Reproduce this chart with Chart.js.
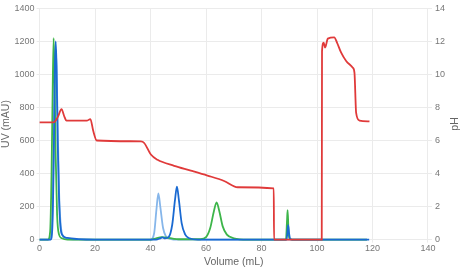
<!doctype html>
<html lang="en">
<head>
<meta charset="utf-8">
<title>UV / pH trace</title>
<script src="https://cdn.jsdelivr.net/npm/chart.js@4.4.1/dist/chart.umd.min.js"></script>
<style>
  html, body { margin: 0; padding: 0; background: #fff; }
  #wrap { position: relative; width: 460px; height: 269px; }
</style>
</head>
<body>
<div id="wrap"><canvas id="c"></canvas></div>
<script>
// volumes (mL) and readings
const greenX = [0, 3, 3.8, 4.3, 4.7, 5.05, 5.4, 5.8, 6.3, 7, 8, 10, 40, 42, 44, 46, 48, 50, 58, 60, 61.5, 62.8, 63.8, 64.8, 66, 67.5, 70, 75, 88.8, 89.2, 89.4, 89.7, 90, 91, 118];
const greenY = [0, 0, 50, 400, 900, 1220, 950, 500, 150, 30, 8, 0, 0, 8, 15, 12, 6, 2, 2, 15, 70, 170, 225, 170, 80, 30, 8, 0, 0, 120, 179, 60, 10, 0, 0];

const lightX = [0, 3.5, 4.5, 5.2, 5.9, 6.4, 7, 7.8, 9, 12, 40, 41.3, 42.1, 42.8, 43.5, 44.5, 45.5, 47, 50, 118];
const lightY = [0, 0, 100, 700, 1150, 800, 300, 60, 10, 0, 0, 40, 180, 280, 200, 70, 20, 5, 0, 0];

const blueX = [0, 4, 4.6, 5.1, 5.5, 5.8, 6.1, 6.5, 7, 7.5, 8.3, 10, 14, 20, 42, 43.5, 44.3, 45.2, 46.5, 47.8, 48.8, 49.5, 50.2, 51.2, 52.5, 54, 57, 89, 89.3, 89.6, 89.9, 90.3, 91, 118.8];
const blueY = [0, 0, 80, 500, 1050, 1200, 1050, 600, 250, 80, 25, 10, 3, 0, 0, 8, 13, 8, 15, 90, 240, 321, 240, 100, 30, 8, 0, 0, 40, 88, 40, 5, 0, 0];

const phX = [0, 5, 6.5, 7.9, 8.8, 9.7, 17, 18.3, 19.3, 20.6, 36.5, 37.7, 40.1, 42.5, 48.5, 54.5, 60.5, 66.5, 71.4, 84.4, 84.5, 101.7, 101.8, 102.4, 102.9, 103.9, 106.2, 107.2, 108.7, 110.5, 112.9, 113.5, 114.1, 115.3, 118.9];
const phY = [7.1, 7.1, 7.4, 7.9, 7.5, 7.2, 7.2, 7.3, 6.6, 6.0, 5.95, 5.85, 5.15, 4.83, 4.47, 4.18, 3.88, 3.55, 3.17, 3.1, 0, 0, 11.4, 11.93, 11.63, 12.17, 12.25, 11.93, 11.32, 10.82, 10.41, 10.1, 7.67, 7.21, 7.16];

const pts = (xs, ys) => xs.map((x, i) => ({ x, y: ys[i] }));

const FAMILY = 'Liberation Sans, Arial, sans-serif';
const TICK = { size: 9, family: FAMILY };
const TITLE = { size: 10.5, family: FAMILY };
const GRID = '#ebebeb';

function line(label, data, color, axis) {
  return {
    label, data, yAxisID: axis,
    borderColor: color, backgroundColor: color,
    borderWidth: 1.8, pointRadius: 0, fill: false,
    cubicInterpolationMode: 'monotone', clip: 4,
  };
}

// right-hand title, read bottom to top like the left one
const phTitle = {
  id: 'phTitle',
  afterDraw(chart) {
    const { ctx, chartArea } = chart;
    ctx.save();
    ctx.translate(455, (chartArea.top + chartArea.bottom) / 2);
    ctx.rotate(-Math.PI / 2);
    ctx.fillStyle = '#666';
    ctx.font = `${TITLE.size}px ${FAMILY}`;
    ctx.textAlign = 'center';
    ctx.textBaseline = 'middle';
    ctx.fillText('pH', 0, 0);
    ctx.restore();
  },
};

// dataset 0 is drawn on top: pH, then dark blue, green, light blue
new Chart(document.getElementById('c'), {
  type: 'line',
  data: {
    datasets: [
      line('pH', pts(phX, phY), '#e03a3a', 'y2'),
      line('UV 2', pts(blueX, blueY), '#1a6ad2', 'y'),
      line('UV 3', pts(greenX, greenY), '#3db54a', 'y'),
      line('UV 1', pts(lightX, lightY), '#86b6ea', 'y'),
    ],
  },
  options: {
    responsive: true,
    maintainAspectRatio: false,
    animation: false,
    layout: { padding: { left: 0, right: 12, top: 2, bottom: 1 } },
    plugins: { legend: { display: false }, tooltip: { enabled: false } },
    scales: {
      x: {
        type: 'linear', min: 0, max: 140,
        ticks: { stepSize: 20, color: '#777', font: TICK, padding: 1 },
        grid: { color: GRID, tickLength: 3 },
        border: { color: GRID },
        title: { display: true, text: 'Volume (mL)', color: '#666', font: TITLE, padding: { top: 0, bottom: 0 } },
      },
      y: {
        position: 'left', min: 0, max: 1400,
        ticks: { stepSize: 200, color: '#777', font: TICK, padding: 2, callback: (v) => String(v) },
        grid: { color: GRID, tickLength: 3 },
        border: { color: GRID },
        title: { display: true, text: 'UV (mAU)', color: '#666', font: TITLE, padding: { top: 0, bottom: 0 } },
      },
      y2: {
        position: 'right', min: 0, max: 14,
        ticks: { stepSize: 2, color: '#777', font: TICK, padding: 3 },
        grid: { drawOnChartArea: false, color: GRID, tickLength: 4 },
        border: { color: GRID },
      },
    },
  },
  plugins: [phTitle],
});
</script>
</body>
</html>
